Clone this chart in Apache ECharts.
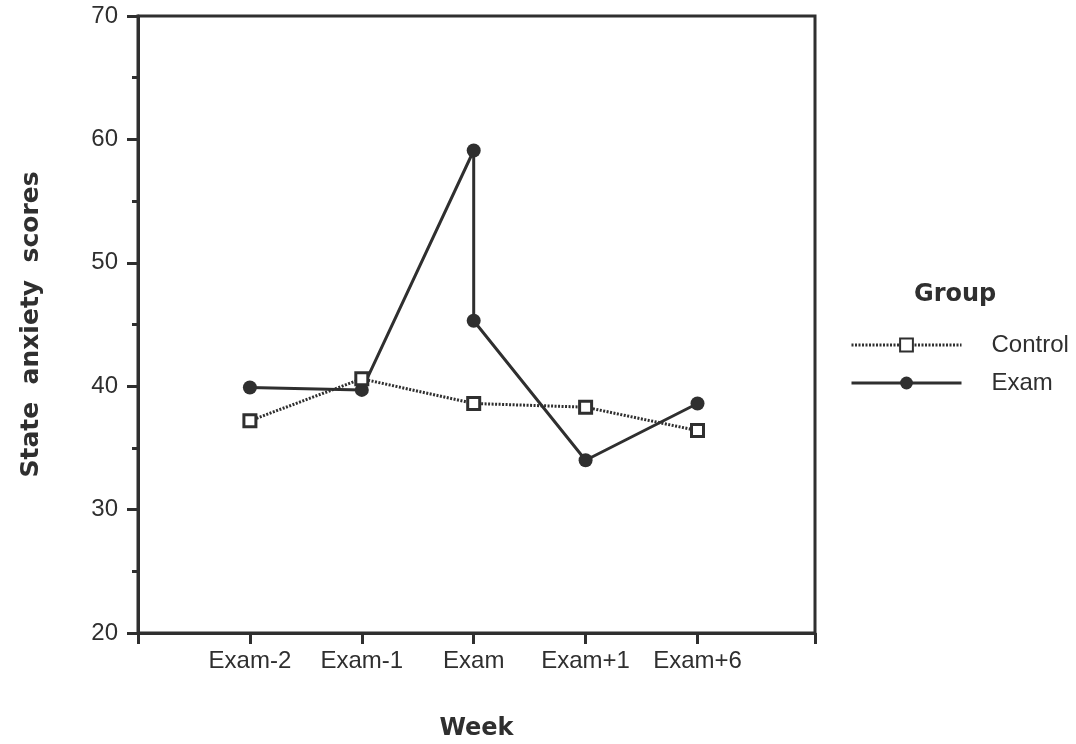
<!DOCTYPE html>
<html>
<head>
<meta charset="utf-8">
<script src="https://cdn.jsdelivr.net/npm/echarts@6/dist/echarts.min.js"></script>
<style>
  html, body { margin: 0; padding: 0; background: #ffffff; }
  #chart { width: 1076px; height: 744px; }
</style>
</head>
<body>
<div id="chart"></div>
<script>
// Week labels along the x axis
const weeks = ['Exam-2', 'Exam-1', 'Exam', 'Exam+1', 'Exam+6'];

// Control group: one mean score per week
const controlScores = [37.2, 40.6, 38.6, 38.3, 36.4];

// Exam group: the exam week has two readings (before / after)
const examWeekIndex = [0, 1, 2, 2, 3, 4];
const examScores = [39.9, 39.7, 59.1, 45.3, 34.0, 38.6];

// Y axis tick values
const yTicks = [20, 30, 40, 50, 60, 70];

const INK = '#2f2f2f';
const FONT = '"Liberation Sans", Arial, Helvetica, sans-serif';
const BOLD_FONT = '"DejaVu Sans", sans-serif';
const X_MAX = 6.05;

const controlData = controlScores.map((v, i) => [i + 1, v]);
const examData = examScores.map((v, i) => [examWeekIndex[i] + 1, v]);

const chart = echarts.init(document.getElementById('chart'), null, { renderer: 'canvas' });

chart.setOption({
  backgroundColor: '#ffffff',
  animation: false,
  textStyle: { fontFamily: FONT, color: INK },
  grid: {
    left: 138, right: 261, top: 16, bottom: 111,
    outerBoundsMode: 'none',
    containLabel: false,
    show: true, borderColor: INK, borderWidth: 3, backgroundColor: 'transparent'
  },
  title: {
    text: 'Group',
    left: 909, top: 278,
    textStyle: { fontFamily: BOLD_FONT, fontSize: 24, fontWeight: 'bold', color: INK }
  },
  legend: {
    orient: 'vertical',
    left: 845, top: 327,
    itemWidth: 110, itemHeight: 16, itemGap: 12,
    lineStyle: { width: 3 },
    textStyle: { fontFamily: FONT, fontSize: 24, color: INK, lineHeight: 26, padding: [0, 0, 0, 25] },
    data: ['Control', 'Exam']
  },
  xAxis: {
    type: 'value',
    min: 0, max: X_MAX,
    name: 'Week',
    nameLocation: 'middle',
    nameGap: 84,
    nameTextStyle: { fontFamily: BOLD_FONT, fontSize: 24, fontWeight: 'bold', color: INK },
    axisLine: { show: true, lineStyle: { color: INK, width: 3 } },
    axisTick: {
      show: true, inside: false, length: 11,
      customValues: [0, 1, 2, 3, 4, 5, X_MAX],
      lineStyle: { color: INK, width: 3 }
    },
    axisLabel: {
      show: true, margin: 16,
      customValues: [1, 2, 3, 4, 5],
      formatter: v => weeks[Math.round(v) - 1] || '',
      fontFamily: FONT, fontSize: 24, color: INK
    },
    splitLine: { show: false }
  },
  yAxis: {
    type: 'value',
    min: 20, max: 70, interval: 10,
    name: 'State  anxiety  scores',
    nameLocation: 'middle',
    nameGap: 94,
    nameTextStyle: { fontFamily: BOLD_FONT, fontSize: 25, fontWeight: 'bold', color: INK },
    axisLine: { show: true, lineStyle: { color: INK, width: 3 } },
    axisTick: { show: true, inside: false, length: 11, lineStyle: { color: INK, width: 3 } },
    minorTick: { show: true, splitNumber: 2, length: 6, lineStyle: { color: INK, width: 3 } },
    axisLabel: {
      margin: 20,
      formatter: v => (yTicks.indexOf(v) >= 0 ? String(v) : ''),
      fontFamily: FONT, fontSize: 24, color: INK
    },
    splitLine: { show: false }
  },
  series: [
    {
      name: 'Control',
      type: 'line',
      data: controlData,
      symbol: 'rect',
      symbolSize: 12,
      z: 3,
      lineStyle: { color: INK, width: 3, type: [2, 1.5] },
      itemStyle: { color: '#ffffff', borderColor: INK, borderWidth: 3 }
    },
    {
      name: 'Exam',
      type: 'line',
      data: examData,
      symbol: 'circle',
      symbolSize: 14,
      z: 2,
      lineStyle: { color: INK, width: 3, type: 'solid' },
      itemStyle: { color: INK, borderColor: INK, borderWidth: 0 }
    }
  ]
});
</script>
</body>
</html>
